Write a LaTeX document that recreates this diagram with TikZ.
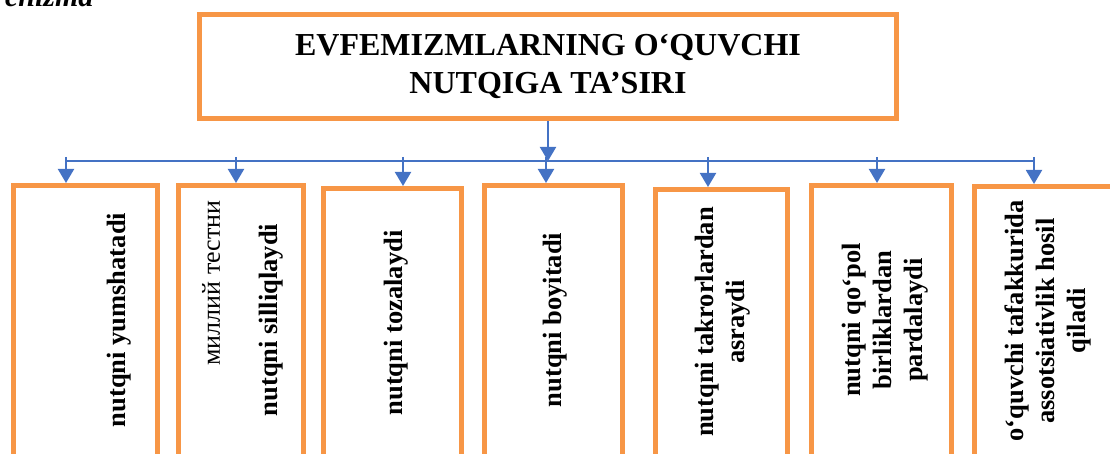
\documentclass[tikz,border=0pt]{standalone}
\usepackage{fontspec}
\setmainfont{Liberation Serif}
\usetikzlibrary{positioning}
\usetikzlibrary{arrows.meta}
\definecolor{boxorange}{HTML}{F79646}
\definecolor{linkblue}{HTML}{4472C4}

\begin{document}
\begin{tikzpicture}[x = 1pt, y = -1pt,
			box/.style = {draw = boxorange, line width = 5pt, inner sep = 0pt, minimum height = 320pt, anchor = north},
			boxtext/.style = {rotate = 90, align = center, font = \fontsize{26.5}{31}\selectfont\bfseries},
			busline/.style = {linkblue, line width = 2pt},
			busarrow/.style = {busline, -{Triangle[length = 14pt, width = 16pt]}}]
							\useasboundingbox (0, 0) rectangle (1110, 454);
							\clip (0, 0) rectangle (1110, 454);
							\node [anchor = base east, font = \fontsize{30}{36}\selectfont\bfseries\itshape] (caption) at (97, 7) {chizma};
							\node [box, minimum width = 697pt, minimum height = 104pt, align = center, font = \fontsize{32}{38}\selectfont\bfseries] (title) at (548, 12) {EVFEMIZMLARNING O‘QUVCHI\\NUTQIGA TA’SIRI};
							\foreach \n/\x/\y/\w in {1/85.5/183/144, 2/241/183/125, 3/392.5/186/138, 4/553.5/183/138, 5/721.5/187/132, 6/881.5/183/140, 7/1046/184/143}
								\node [box, minimum width = \w pt] (b\n) at (\x, \y) {};
							\coordinate (busl) at (66, 161);
							\coordinate (busr) at (1034, 161);
							\draw [busline] (busl) -- (busr);
							\draw [busarrow] (title.south) -- (title.south |- busl);
							\foreach \n/\x in {1/66, 2/236, 3/403, 4/546, 5/708, 6/877, 7/1034} {
								\coordinate (s\n) at (\x, 157);
								\draw [busarrow] (s\n) -- (s\n |- b\n.north);
							}
							\node [boxtext] (t1) at (119, 320) {nutqni yumshatadi};
							\node [boxtext, font = \fontsize{26}{31}\selectfont] (t2a) at (211, 283) {миллий тестни};
							\node [boxtext] (t2b) at (271, 320) {nutqni silliqlaydi};
							\node [boxtext] (t3) at (396, 323) {nutqni tozalaydi};
							\node [boxtext] (t4) at (555, 320) {nutqni boyitadi};
							\node [boxtext] (t5) at (723, 322) {nutqni takrorlardan\\asraydi};
							\node [boxtext] (t6) at (885, 320) {nutqni qo‘pol\\birliklardan\\pardalaydi};
							\node [boxtext] (t7) at (1048, 321) {o‘quvchi tafakkurida\\assotsiativlik hosil\\qiladi};
						\end{tikzpicture}
\end{document}
